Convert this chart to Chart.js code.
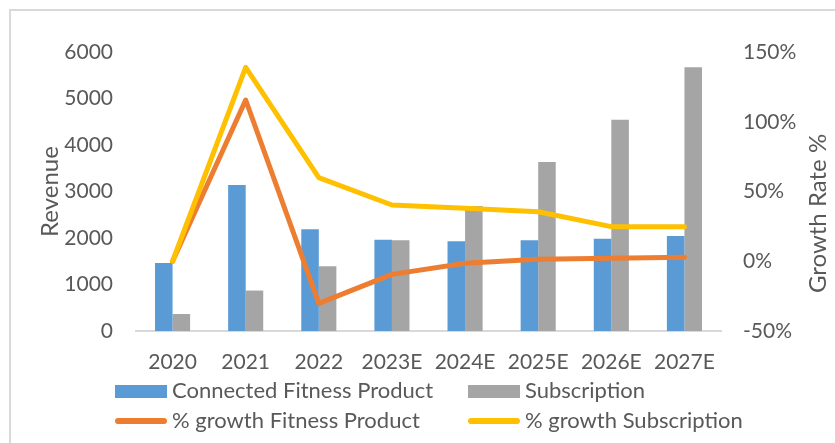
<!DOCTYPE html>
<html>
<head>
<meta charset="utf-8">
<script src="https://cdn.jsdelivr.net/npm/chart.js@4"></script>
<style>
  html, body { margin: 0; padding: 0; background: #fff; }
  #wrap { position: relative; width: 835px; height: 443px; overflow: hidden; font-family: Lato, sans-serif; }
  #frame { position: absolute; left: 9px; top: 9px; width: 900px; height: 500px; border-top: 2px solid #d9d9d9; border-left: 2px solid #d9d9d9; }
  #chart { position: absolute; left: 0; top: 0; }
  .legend-item { position: absolute; height: 26px; line-height: 26px; font-size: 22px; color: #595959; white-space: nowrap; }
  .legend-item .key { position: absolute; left: 0; width: 52px; }
  .legend-item .txt { position: absolute; left: 57px; top: -1px; }
</style>
</head>
<body>
<div id="wrap">
  <div id="frame"></div>
  <canvas id="chart" width="835" height="443"></canvas>
  <div id="legend"></div>
</div>
<script>
// data
const categories = ['2020', '2021', '2022', '2023E', '2024E', '2025E', '2026E', '2027E'];
const productRevenue = [1460, 3140, 2190, 1965, 1930, 1950, 1985, 2045];
const subscriptionRevenue = [365, 870, 1390, 1950, 2690, 3635, 4545, 5670];
const productGrowth = [0, 115.6, -30.2, -9.4, -1.5, 1.4, 2.1, 2.8];
const subscriptionGrowth = [0, 139, 60, 40.3, 38, 35.5, 24.8, 24.8];

const BLUE = '#5b9bd5';
const GRAY = '#a5a5a5';
const ORANGE = '#ed7d31';
const YELLOW = '#ffc000';
const TEXT = '#595959';

const tickFont = { family: 'Lato', size: 21 };
const titleFont = { family: 'Lato', size: 24 };

// right axis title reads bottom to top in the original, chart.js turns it the other way
const rightTitle = {
  id: 'rightTitle',
  afterDraw(chart) {
    const scale = chart.scales.y2;
    const ctx = chart.ctx;
    ctx.save();
    ctx.translate(818, (scale.top + scale.bottom) / 2 + 22);
    ctx.rotate(-Math.PI / 2);
    ctx.fillStyle = TEXT;
    ctx.font = `${titleFont.size}px ${titleFont.family}`;
    ctx.textAlign = 'center';
    ctx.textBaseline = 'middle';
    ctx.fillText('Growth Rate %', 0, 0);
    ctx.restore();
  }
};

new Chart(document.getElementById('chart'), {
  type: 'bar',
  data: {
    labels: categories,
    datasets: [
      { label: 'Connected Fitness Product', data: productRevenue, backgroundColor: BLUE, yAxisID: 'y', order: 2 },
      { label: 'Subscription', data: subscriptionRevenue, backgroundColor: GRAY, yAxisID: 'y', order: 2 },
      {
        type: 'line', label: '% growth Fitness Product', data: productGrowth, yAxisID: 'y2',
        borderColor: ORANGE, backgroundColor: ORANGE, borderWidth: 5, pointRadius: 0,
        borderJoinStyle: 'round', borderCapStyle: 'round', tension: 0, order: 1
      },
      {
        type: 'line', label: '% growth Subscription', data: subscriptionGrowth, yAxisID: 'y2',
        borderColor: YELLOW, backgroundColor: YELLOW, borderWidth: 5, pointRadius: 0,
        borderJoinStyle: 'round', borderCapStyle: 'round', tension: 0, order: 0
      }
    ]
  },
  options: {
    responsive: false,
    animation: false,
    layout: { padding: { left: 36, right: 3, top: 52, bottom: 62 } },
    datasets: { bar: { categoryPercentage: 0.48, barPercentage: 1 } },
    plugins: { legend: { display: false }, tooltip: { enabled: false } },
    scales: {
      x: {
        grid: { display: false, drawTicks: false },
        border: { display: true, color: '#d9d9d9', width: 2 },
        ticks: { color: TEXT, font: tickFont, padding: 19, maxRotation: 0, autoSkip: false },
        afterFit(scale) { scale.height = 50; }
      },
      y: {
        position: 'left',
        min: 0, max: 6000,
        grid: { display: false, drawTicks: false },
        border: { display: false },
        ticks: { stepSize: 1000, color: TEXT, font: tickFont, padding: 23, callback: v => String(v) },
        title: { display: true, text: 'Revenue', color: TEXT, font: titleFont, padding: 0 },
        afterFit(scale) { scale.width = 100; }
      },
      y2: {
        position: 'right',
        min: -50, max: 150,
        grid: { display: false, drawTicks: false },
        border: { display: false },
        ticks: { stepSize: 50, color: TEXT, font: tickFont, padding: 22, callback: v => v + '%' },
        afterFit(scale) { scale.width = 111; }
      }
    }
  },
  plugins: [rightTitle]
});

// legend, two items per row like the original
const legendItems = [
  { text: 'Connected Fitness Product', color: BLUE, kind: 'box', x: 115, y: 378 },
  { text: 'Subscription', color: GRAY, kind: 'box', x: 468, y: 378 },
  { text: '% growth Fitness Product', color: ORANGE, kind: 'line', x: 115, y: 408 },
  { text: '% growth Subscription', color: YELLOW, kind: 'line', x: 468, y: 408 }
];
const legend = document.getElementById('legend');
legendItems.forEach(item => {
  const el = document.createElement('div');
  el.className = 'legend-item';
  el.style.left = item.x + 'px';
  el.style.top = item.y + 'px';
  const key = item.kind === 'box'
    ? `<span class="key" style="top:7px;height:13px;background:${item.color}"></span>`
    : `<span class="key" style="top:10px;height:6px;border-radius:3px;background:${item.color}"></span>`;
  el.innerHTML = key + `<span class="txt">${item.text}</span>`;
  legend.appendChild(el);
});
</script>
</body>
</html>
